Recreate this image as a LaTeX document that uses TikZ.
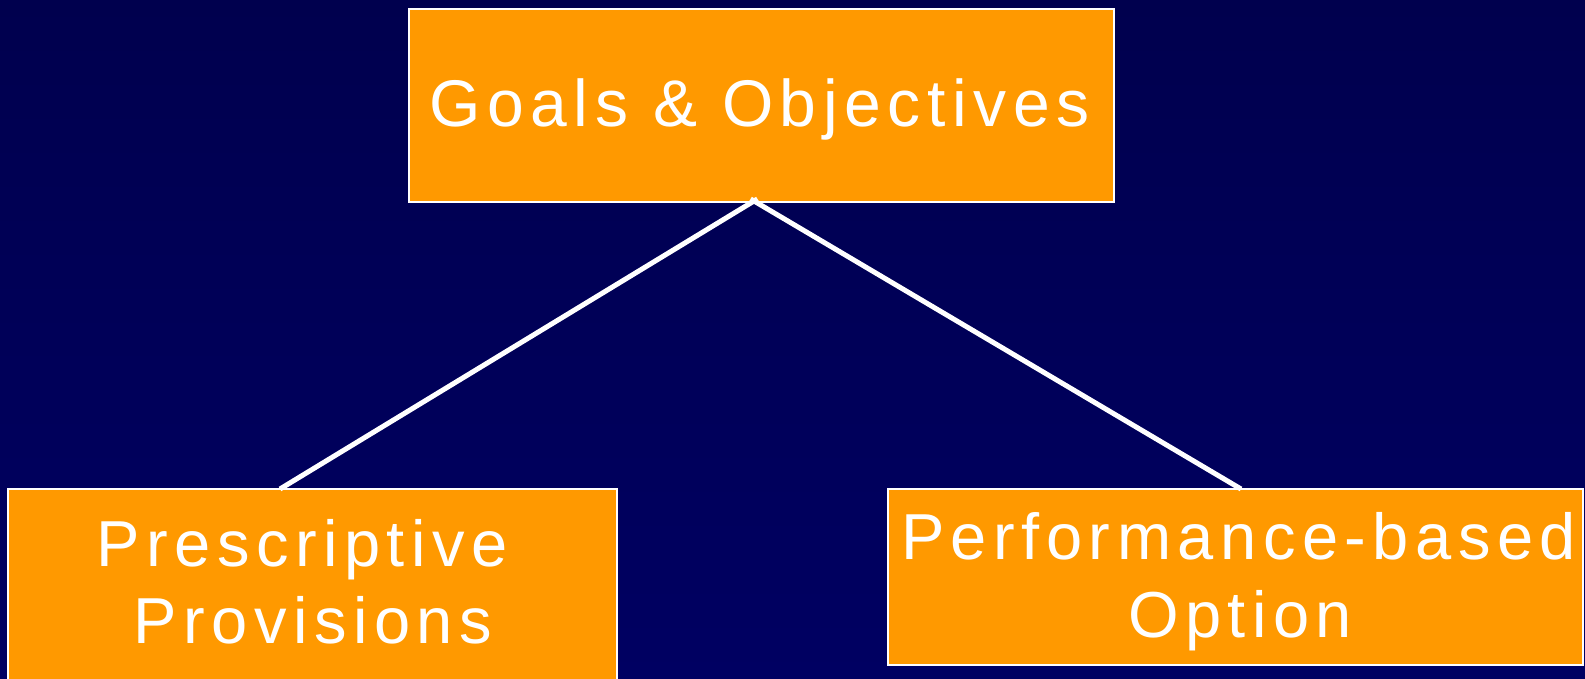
\documentclass[tikz,border=0pt]{standalone}
\usepackage{fontspec}
\setmainfont{Liberation Sans}[LetterSpace=10]
\definecolor{bgtop}{RGB}{0,0,78}
\definecolor{bgbot}{RGB}{0,0,98}
\definecolor{boxorange}{RGB}{255,153,0}
\tikzset{
  box/.style={draw=white, line width=2pt, fill=boxorange, inner sep=0pt, outer sep=0pt, anchor=north west},
  txt/.style={text=white, inner sep=0pt, anchor=base, font=\fontsize{65}{77}\selectfont},
  link/.style={draw=white, line width=5pt, shorten <=-4pt}
}
\begin{document}
\begin{tikzpicture}[x=1pt,y=1pt]
\useasboundingbox (0,0) rectangle (1585,-678);
\clip (0,0) rectangle (1585,-678);
\shade[top color=bgtop, bottom color=bgbot] (0,0) rectangle (1585,-678);
% boxes
\node[box, minimum width=705pt, minimum height=193pt] (top) at (409,-9) {};
\node[box, minimum width=609pt, minimum height=230pt] (left) at (8,-489) {};
\node[box, minimum width=695pt, minimum height=176pt] (right) at (888,-489) {};
% texts
\node[txt, font=\fontsize{66}{77}\selectfont] (t1) at (759.5,-126) {Goals \& Objectives};
\node[txt] (t2a) at (302,-566) {Prescriptive};
\node[txt] (t2b) at (313,-643) {Provisions};
\node[txt] (t3a) at (1238.5,-559) {Performance-based};
\node[txt] (t3b) at (1240,-637) {Option};
% connectors
\coordinate (j) at ([xshift=-7.5pt,yshift=1pt]top.south);
\coordinate (le) at ([xshift=-32.5pt]left.north);
\coordinate (re) at ([xshift=5.5pt]right.north);
\draw[link] (j) -- (le);
\draw[link] (j) -- (re);
\end{tikzpicture}
\end{document}
